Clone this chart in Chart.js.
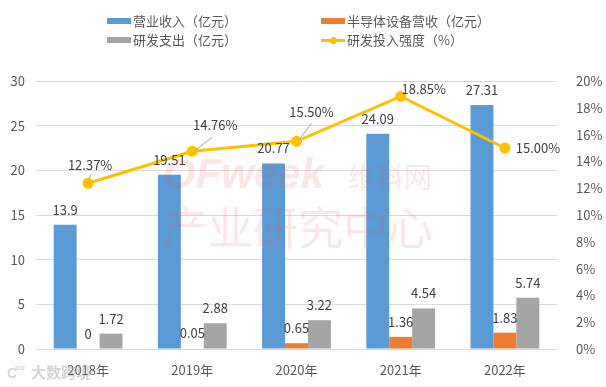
<!DOCTYPE html>
<html>
<head>
<meta charset="utf-8">
<script src="https://cdn.jsdelivr.net/npm/chart.js@4.4.1/dist/chart.umd.min.js"></script>
<style>
    body { margin: 0; background: #fff; }
    #wrap { position: relative; width: 606px; height: 387px; }
    #legend { position: absolute; left: 0; top: 0; width: 606px; height: 60px; font-family: "Noto Sans CJK SC", sans-serif; font-size: 13px; color: #595959; }
    .item { position: absolute; height: 16px; line-height: 16px; white-space: nowrap; }
    .box { display: inline-block; width: 24px; height: 6px; vertical-align: middle; margin-right: 2px; margin-top: -2px; }
    .ln { display: inline-block; position: relative; width: 24px; height: 3px; vertical-align: middle; margin-right: 2px; margin-top: -2px; }
    .ln i { position: absolute; left: 9px; top: -2px; width: 7px; height: 7px; border-radius: 50%; }
</style>
</head>
<body>
<div id="wrap">
    <canvas id="myChart" width="606" height="387"></canvas>
    <div id="legend"></div>
</div>
<script>
var years = ["2018年", "2019年", "2020年", "2021年", "2022年"];
var revenue = [13.9, 19.51, 20.77, 24.09, 27.31];
var semiRevenue = [0, 0.05, 0.65, 1.36, 1.83];
var rdSpend = [1.72, 2.88, 3.22, 4.54, 5.74];
var rdRatio = [12.37, 14.76, 15.50, 18.85, 15.00];
var leftTicks = [0, 5, 10, 15, 20, 25, 30];
var rightTicks = [0, 2, 4, 6, 8, 10, 12, 14, 16, 18, 20];

// where the % labels sit relative to their point, and which get a leader line
var ratioLabelOffset = [[2, -18], [23, -26], [15, -29], [23, -7], [33, 0]];
var ratioLeader = [[[1, -4], [3, -9]], [[3, -1], [20, -14]], [[3, -2], [15, -18]], null, null];

var font = '"Noto Sans CJK SC", sans-serif';

var labelPlugin = {
    id: 'labels',
    afterDatasetsDraw: function (chart) {
        var ctx = chart.ctx;
        ctx.save();
        ctx.font = '13px ' + font;
        ctx.fillStyle = '#404040';
        ctx.textBaseline = 'middle';
        ctx.textAlign = 'center';
        chart.data.datasets.forEach(function (ds, i) {
            var meta = chart.getDatasetMeta(i);
            meta.data.forEach(function (el, j) {
                if (ds.type == 'line') {
                    var off = ratioLabelOffset[j];
                    var txt = ds.data[j].toFixed(2) + '%';
                    if (ratioLeader[j]) {
                        var ld = ratioLeader[j];
                        ctx.strokeStyle = '#a6a6a6';
                        ctx.lineWidth = 1;
                        ctx.beginPath();
                        ctx.moveTo(el.x + ld[0][0], el.y + ld[0][1]);
                        ctx.lineTo(el.x + ld[1][0], el.y + ld[1][1]);
                        ctx.stroke();
                    }
                    ctx.fillText(txt, el.x + off[0], el.y + off[1]);
                } else {
                    ctx.fillText(String(ds.data[j]), el.x, el.y - 15);
                }
            });
        });
        ctx.restore();
    }
};

var watermarkPlugin = {
    id: 'watermark',
    afterDraw: function (chart) {
        var ctx = chart.ctx;
        ctx.save();
        ctx.fillStyle = 'rgba(225, 90, 100, 0.15)';
        ctx.textBaseline = 'alphabetic';
        ctx.textAlign = 'left';
        ctx.font = 'italic bold 42px "Liberation Sans", sans-serif';
        ctx.fillText('OFweek', 163, 188);
        ctx.font = '28px ' + font;
        ctx.fillText('维科网', 348, 188);
        ctx.font = '45px ' + font;
        ctx.fillText('产业研究中心', 163, 245);
        ctx.fillStyle = 'rgba(170, 170, 170, 0.5)';
        ctx.font = 'bold 15px ' + font;
        ctx.fillText('大数跨境', 31, 378);
        ctx.font = 'bold 14px "Liberation Sans", sans-serif';
        ctx.fillText('C', 7, 378);
        ctx.font = 'bold 8px "Liberation Sans", sans-serif';
        ctx.fillText('oo', 15, 370);
        ctx.restore();
    }
};

var ctx = document.getElementById("myChart");

var chart = new Chart(ctx, {
    data: {
        labels: years,
        datasets: [
            {
                type: 'line',
                label: '研发投入强度（%）',
                data: rdRatio,
                yAxisID: 'y1',
                borderColor: '#FFC000',
                backgroundColor: '#FFC000',
                borderWidth: 3,
                pointRadius: 4,
                pointHoverRadius: 4,
                tension: 0,
                order: 0
            },
            {
                type: 'bar',
                label: '营业收入（亿元）',
                data: revenue,
                yAxisID: 'y',
                backgroundColor: '#5B9BD5',
                order: 1
            },
            {
                type: 'bar',
                label: '半导体设备营收（亿元）',
                data: semiRevenue,
                yAxisID: 'y',
                backgroundColor: '#ED7D31',
                order: 1
            },
            {
                type: 'bar',
                label: '研发支出（亿元）',
                data: rdSpend,
                yAxisID: 'y',
                backgroundColor: '#A5A5A5',
                order: 1
            }
        ]
    },
    options: {
        responsive: false,
        animation: false,
        layout: { padding: { top: 81, bottom: 0, left: 0, right: 0 } },
        datasets: {
            bar: { categoryPercentage: 0.66, barPercentage: 1.0 }
        },
        plugins: {
            legend: { display: false },
            tooltip: { enabled: false }
        },
        scales: {
            x: {
                grid: { display: false },
                border: { display: false },
                ticks: { color: '#595959', font: { family: font, size: 13 }, padding: 5 },
                afterFit: function (s) { s.height = 38; }
            },
            y: {
                position: 'left',
                min: 0,
                max: 30,
                afterBuildTicks: function (s) { s.ticks = leftTicks.map(function (v) { return { value: v }; }); },
                grid: { color: '#d9d9d9', drawTicks: false },
                border: { display: false },
                ticks: { color: '#595959', font: { family: font, size: 13 }, padding: 11 },
                afterFit: function (s) { s.width = 36; }
            },
            y1: {
                position: 'right',
                min: 0,
                max: 20,
                afterBuildTicks: function (s) { s.ticks = rightTicks.map(function (v) { return { value: v }; }); },
                grid: { display: false },
                border: { display: false },
                ticks: {
                    color: '#595959',
                    font: { family: font, size: 13 },
                    padding: 11,
                    callback: function (v) { return v + '%'; }
                },
                afterFit: function (s) { s.width = 49; }
            }
        }
    },
    plugins: [labelPlugin, watermarkPlugin]
});

// legend laid out as a 2x2 grid like the original
var legendOrder = [1, 2, 3, 0];
var legendPos = [[107, 13], [321, 13], [107, 32], [321, 32]];
var legend = document.getElementById("legend");
legendOrder.forEach(function (di, k) {
    var ds = chart.data.datasets[di];
    var item = document.createElement("div");
    item.className = "item";
    item.style.left = legendPos[k][0] + "px";
    item.style.top = legendPos[k][1] + "px";
    var mark;
    if (ds.type == 'line') {
        mark = '<span class="ln" style="background:' + ds.borderColor + '"><i style="background:' + ds.borderColor + '"></i></span>';
    } else {
        mark = '<span class="box" style="background:' + ds.backgroundColor + '"></span>';
    }
    item.innerHTML = mark + ds.label;
    legend.appendChild(item);
});
</script>
</body>
</html>
